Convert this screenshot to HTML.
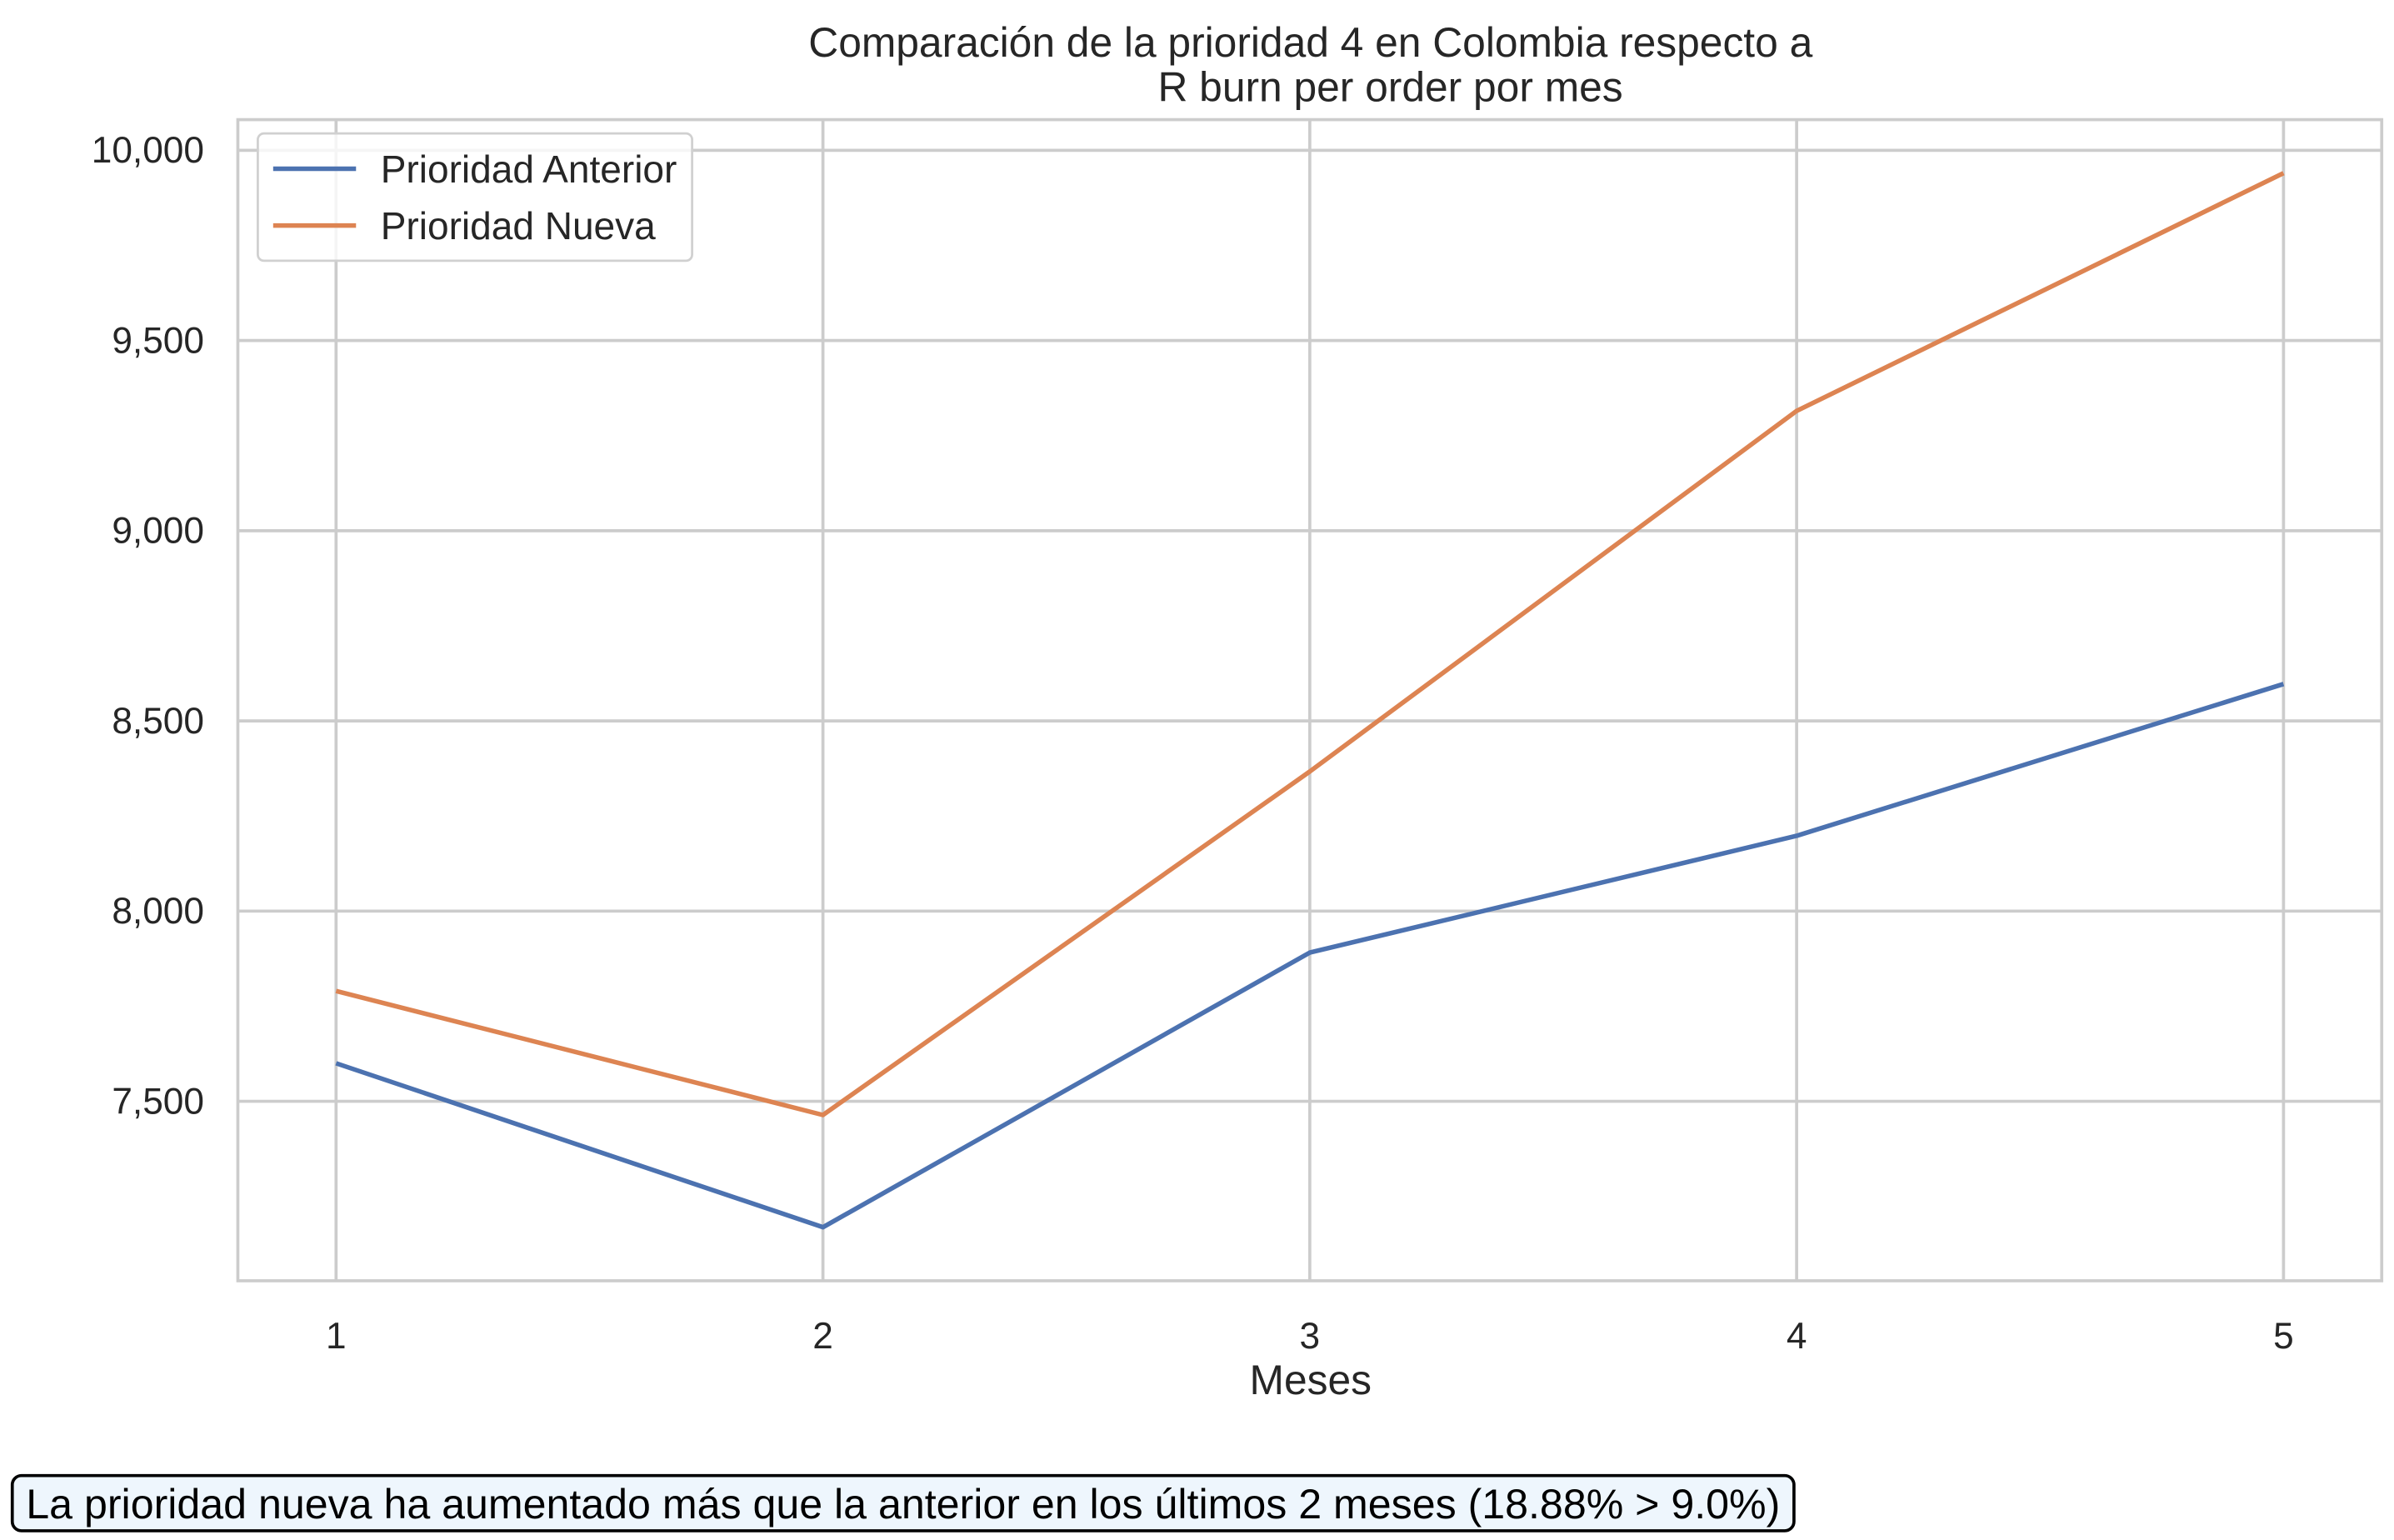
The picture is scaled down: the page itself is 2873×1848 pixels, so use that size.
<!DOCTYPE html>
<html><head><meta charset="utf-8"><style>
html,body{margin:0;padding:0;background:#fff;}
svg{display:block;font-family:"Liberation Sans",Arial,sans-serif;}
</style></head><body>
<svg id="chart" width="2873" height="1848" viewBox="0 0 1560 1004" preserveAspectRatio="none" xmlns="http://www.w3.org/2000/svg">
<text x="854" y="37" font-size="27" text-anchor="middle" fill="#262626">Comparación de la prioridad 4 en Colombia respecto a</text>
<text x="906" y="66" font-size="27" text-anchor="middle" fill="#262626">R burn per order por mes</text>
<g id="grid"></g>
<rect x="155" y="78" width="1397" height="757" fill="none" stroke="#cccccc" stroke-width="2"/>
<g id="series"></g>
<g id="ticks" font-size="24" fill="#262626"></g>
<text x="854" y="909" font-size="27" text-anchor="middle" fill="#262626">Meses</text>
<g>
<rect x="168" y="87" width="283" height="83" rx="4" fill="#fff" fill-opacity="0.8" stroke="#d0d0d0" stroke-width="1.5"/>
<line x1="178" y1="110" x2="232" y2="110" stroke="#4c72b0" stroke-width="3"/>
<text x="248" y="119" font-size="25" fill="#262626">Prioridad Anterior</text>
<line x1="178" y1="147" x2="232" y2="147" stroke="#dd8452" stroke-width="3"/>
<text x="248" y="156" font-size="25" fill="#262626">Prioridad Nueva</text>
</g>
<g>
<rect x="8" y="962" width="1161" height="36" rx="6" fill="#eef6fd" stroke="#000" stroke-width="2"/>
<text x="17" y="990" font-size="27" fill="#000" textLength="1143" lengthAdjust="spacingAndGlyphs">La prioridad nueva ha aumentado más que la anterior en los últimos 2 meses (18.88% &gt; 9.0%)</text>
</g>
</svg>
<script>
const months = [1, 2, 3, 4, 5];
const anterior = [7600, 7169, 7891, 8198, 8597];
const nueva = [7790, 7464, 8367, 9315, 9940];
const yTicks = [7500, 8000, 8500, 9000, 9500, 10000];
const yTickLabels = ["7,500", "8,000", "8,500", "9,000", "9,500", "10,000"];
const xTickLabels = ["1", "2", "3", "4", "5"];

const NS = "http://www.w3.org/2000/svg";
function xS(m){ return 219 + (m - 1) * 317.25; }
function yS(v){ return 718 - (v - 7500) * 0.248; }
const grid = document.getElementById('grid');
const ticks = document.getElementById('ticks');
const series = document.getElementById('series');
yTicks.forEach((v, i) => {
  const l = document.createElementNS(NS, 'line');
  
  
  l.setAttribute('x1', 155); l.setAttribute('x2', 1552);
  l.setAttribute('y1', yS(v)); l.setAttribute('y2', yS(v));
  l.setAttribute('stroke', '#cccccc'); l.setAttribute('stroke-width', '2');
  grid.appendChild(l);
  const t = document.createElementNS(NS, 'text');
  
  
  t.setAttribute('x', 133); t.setAttribute('y', yS(v) + 8);
  t.setAttribute('text-anchor', 'end');
  t.textContent = yTickLabels[i];
  ticks.appendChild(t);
});
months.forEach((m, i) => {
  const l = document.createElementNS(NS, 'line');
  
  
  l.setAttribute('x1', xS(m)); l.setAttribute('x2', xS(m));
  l.setAttribute('y1', 78); l.setAttribute('y2', 835);
  l.setAttribute('stroke', '#cccccc'); l.setAttribute('stroke-width', '2');
  grid.appendChild(l);
  const t = document.createElementNS(NS, 'text');
  
  
  t.setAttribute('x', xS(m)); t.setAttribute('y', 879);
  t.setAttribute('text-anchor', 'middle');
  t.textContent = xTickLabels[i];
  ticks.appendChild(t);
});
function drawLine(vals, color, name){
  const p = document.createElementNS(NS, 'polyline');
  
  
  p.setAttribute('points', vals.map((v, i) => xS(months[i]) + ',' + yS(v)).join(' '));
  p.setAttribute('fill', 'none'); p.setAttribute('stroke', color);
  p.setAttribute('stroke-width', '3'); p.setAttribute('stroke-linejoin', 'round');
  series.appendChild(p);
}
drawLine(anterior, '#4c72b0', 'line-prioridad-anterior');
drawLine(nueva, '#dd8452', 'line-prioridad-nueva');
</script>
</body></html>
